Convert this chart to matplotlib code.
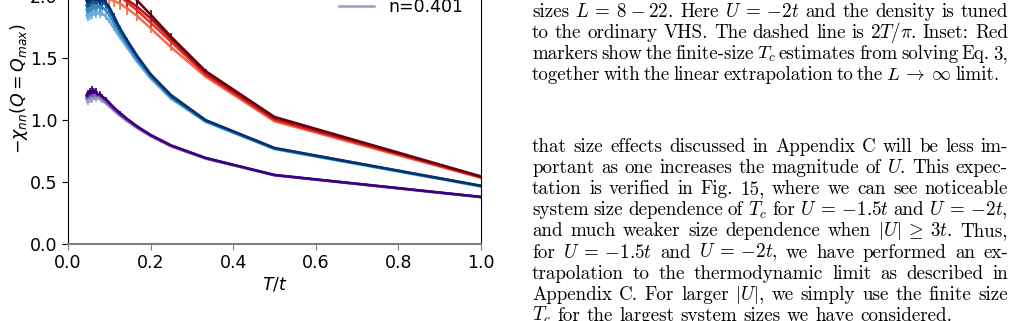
import numpy as np
import matplotlib
matplotlib.use("Agg")
import matplotlib.pyplot as plt
from matplotlib.lines import Line2D

# ---------------- data ----------------
T = [1.0, 0.5, 0.333, 0.25, 0.2, 0.167, 0.143, 0.125, 0.111, 0.1, 0.091, 0.083,
     0.077, 0.071, 0.067, 0.0625, 0.059, 0.056, 0.053, 0.05, 0.048, 0.045]

red_L1 = [0.533, 0.99, 1.35, 1.585, 1.74, 1.84, 1.90, 1.94, 1.96, 1.975, 1.985, 1.99,
          1.975, 2.0, 1.98, 1.995, 1.97, 1.99, 1.965, 1.985, 1.96, 1.975]
red_L2 = [0.538, 1.0, 1.365, 1.63, 1.785, 1.885, 1.95, 2.0, 2.04, 2.07, 2.09, 2.10,
          2.11, 2.115, 2.12, 2.11, 2.125, 2.115, 2.12, 2.11, 2.12, 2.11]
red_L3 = [0.542, 1.012, 1.38, 1.655, 1.82, 1.915, 1.97, 2.02, 2.07, 2.11, 2.14, 2.16,
          2.17, 2.18, 2.19, 2.185, 2.2, 2.19, 2.2, 2.195, 2.2, 2.19]
red_L4 = [0.545, 1.025, 1.395, 1.67, 1.85, 1.965, 2.06, 2.14, 2.20, 2.25, 2.29, 2.31,
          2.33, 2.34, 2.36, 2.35, 2.37, 2.36, 2.38, 2.37, 2.38, 2.37]
red_err = [0.004, 0.008, 0.015, 0.03, 0.04, 0.045, 0.05, 0.05, 0.05, 0.055, 0.055, 0.06,
           0.06, 0.06, 0.06, 0.06, 0.06, 0.06, 0.06, 0.06, 0.06, 0.06]

blue_L1 = [0.464, 0.765, 0.985, 1.17, 1.335, 1.47, 1.585, 1.67, 1.74, 1.80, 1.835, 1.86,
           1.85, 1.875, 1.855, 1.87, 1.845, 1.865, 1.84, 1.855, 1.83, 1.845]
blue_L2 = [0.466, 0.768, 0.99, 1.18, 1.35, 1.49, 1.61, 1.70, 1.78, 1.85, 1.885, 1.91,
           1.90, 1.925, 1.905, 1.92, 1.895, 1.91, 1.885, 1.90, 1.875, 1.89]
blue_L3 = [0.468, 0.772, 0.995, 1.19, 1.36, 1.51, 1.63, 1.73, 1.82, 1.89, 1.93, 1.945,
           1.96, 1.94, 1.97, 1.95, 1.965, 1.935, 1.955, 1.93, 1.95, 1.925]
blue_L4 = [0.47, 0.775, 1.0, 1.20, 1.37, 1.52, 1.645, 1.745, 1.84, 1.91, 1.95, 1.97,
           1.955, 1.985, 1.965, 1.995, 1.97, 1.985, 1.955, 1.975, 1.945, 1.96]
blue_err = [0.002, 0.004, 0.006, 0.008, 0.01, 0.012, 0.015, 0.015, 0.02, 0.02, 0.025, 0.025,
            0.03, 0.03, 0.03, 0.03, 0.03, 0.03, 0.03, 0.03, 0.03, 0.03]

purple_L1 = [0.377, 0.553, 0.688, 0.786, 0.869, 0.935, 0.99, 1.035, 1.075, 1.11, 1.135, 1.155,
             1.17, 1.18, 1.17, 1.19, 1.165, 1.18, 1.16, 1.175, 1.15, 1.165]
purple_L2 = [0.378, 0.555, 0.69, 0.789, 0.873, 0.94, 0.998, 1.045, 1.085, 1.12, 1.15, 1.17,
             1.19, 1.195, 1.205, 1.19, 1.21, 1.185, 1.20, 1.18, 1.195, 1.175]
purple_L3 = [0.379, 0.556, 0.693, 0.792, 0.877, 0.946, 1.005, 1.05, 1.095, 1.13, 1.16, 1.185,
             1.20, 1.21, 1.22, 1.235, 1.215, 1.225, 1.20, 1.215, 1.19, 1.20]
purple_L4 = [0.38, 0.557, 0.695, 0.795, 0.88, 0.95, 1.01, 1.06, 1.10, 1.14, 1.17, 1.19,
             1.21, 1.205, 1.235, 1.22, 1.25, 1.215, 1.23, 1.21, 1.22, 1.195]
purple_err = [0.002, 0.003, 0.004, 0.005, 0.006, 0.008, 0.01, 0.01, 0.012, 0.015, 0.018, 0.02,
              0.02, 0.02, 0.025, 0.025, 0.025, 0.025, 0.025, 0.025, 0.025, 0.025]

legend_label = "n=0.401"
xticks = [0.0, 0.2, 0.4, 0.6, 0.8, 1.0]
yticks = [0.0, 0.5, 1.0, 1.5, 2.0, 2.5]

caption_lines = [
    "sizes $L\\:=\\:8\\:-\\:22$. Here $U\\:=\\:{-2t}$ and the density is tuned",
    "to the ordinary VHS. The dashed line is $2T/\\pi$. Inset: Red",
    "markers show the finite-size $T_c$ estimates from solving Eq. 3,",
    "together with the linear extrapolation to the $L\\:\\rightarrow\\:\\infty$ limit.",
]
caption_ends = [1008, 1008, 1008, 1000]   # right end of each caption line (px)
body_lines = [
    "that size effects discussed in Appendix C will be less im-",
    "portant as one increases the magnitude of $U$. This expec-",
    "tation is verified in Fig. 15, where we can see noticeable",
    "system size dependence of $T_c$ for $U\\:=\\:{-1.5t}$ and $U\\:=\\:{-2t}$,",
    "and much weaker size dependence when $|U|\\:\\geq\\:3t$. Thus,",
    "for $U\\:=\\:{-1.5t}$ and $U\\:=\\:{-2t}$, we have performed an ex-",
    "trapolation to the thermodynamic limit as described in",
    "Appendix C. For larger $|U|$, we simply use the finite size",
    "$T_c$ for the largest system sizes we have considered.",
]

# ---------------- figure ----------------
W, H = 1028, 321
fig = plt.figure(figsize=(W / 100, H / 100), dpi=100)
ax = fig.add_axes([68 / W, 77 / H, 413 / W, 310 / H])

families = [
    ("Reds", [red_L1, red_L2, red_L3, red_L4], red_err),
    ("Blues", [blue_L1, blue_L2, blue_L3, blue_L4], blue_err),
    ("Purples", [purple_L1, purple_L2, purple_L3, purple_L4], purple_err),
]
legend_color = None
for cmap_name, series, err in families:
    cmap = plt.get_cmap(cmap_name)
    cols = cmap(np.linspace(0.5, 1.0, len(series)))
    for i, (vals, c) in enumerate(zip(series, cols)):
        ax.errorbar(T, vals, yerr=err, color=c, lw=1.8, elinewidth=1.2, capsize=0)
    if cmap_name == "Purples":
        legend_color = cols[0]

ax.set_xlim(0, 1.0)
ax.set_ylim(0, 2.5)
ax.set_xticks(xticks)
ax.set_yticks(yticks)
ax.tick_params(labelsize=12.5, length=4)
ax.tick_params(axis="x", color="#808080")
ax.spines["bottom"].set_color("#808080")
ax.spines["bottom"].set_linewidth(1.5)
ax.set_xlabel("$T/t$", fontsize=12.5, labelpad=2)
ax.set_ylabel("$-\\chi_{nn}(Q=Q_{max})$", fontsize=12.5, labelpad=0)

handle = Line2D([], [], color=legend_color, lw=1.8)
ax.legend([handle], [legend_label], loc="center right", frameon=False, fontsize=12.5,
          borderaxespad=0, bbox_to_anchor=(470 / W, 1 - 7 / H),
          bbox_transform=fig.transFigure)

# ---------------- page text (justified) ----------------
renderer = fig.canvas.get_renderer()
X0, X1 = 532, 1008


def make_tokens(line, x_px, y_px, fs):
    toks = line.split(" ")
    return [fig.text(x_px / W, 1 - y_px / H, t, fontsize=fs, family="cmr10",
                     math_fontfamily="cm", va="baseline", ha="left") for t in toks]


def natural_width(line, fs, space_em):
    objs = make_tokens(line, 0, 0, fs)
    w = sum(o.get_window_extent(renderer).width for o in objs)
    n = len(objs)
    for o in objs:
        o.remove()
    return w + (n - 1) * space_em * fs * 100 / 72


# font size: on average, the justified lines fill the column with normal spaces
justified = caption_lines[:-1] + body_lines[:-1]
mean_w = np.mean([natural_width(ln, 10.0, 0.3333) for ln in justified])
FS = 10.0 * (X1 - X0) / mean_w
MIN_GAP = 0.18 * FS * 100 / 72
SPACE = 0.3333 * FS * 100 / 72


def place(line, y_px, x_end=None):
    fs = FS
    objs = make_tokens(line, X0, y_px, fs)
    widths = [o.get_window_extent(renderer).width for o in objs]
    n = len(objs)
    if x_end is not None and n > 1:
        gap = (x_end - X0 - sum(widths)) / (n - 1)
        if gap < MIN_GAP:
            scale = (x_end - X0 - (n - 1) * MIN_GAP) / sum(widths)
            for o in objs:
                o.set_fontsize(fs * scale)
            widths = [w * scale for w in widths]
            gap = (x_end - X0 - sum(widths)) / (n - 1)
    else:
        gap = SPACE
    x = X0
    for o, w in zip(objs, widths):
        o.set_x(x / W)
        x += w + gap


cap_base0, step = 17, 21.0
for i, (ln, xe) in enumerate(zip(caption_lines, caption_ends)):
    place(ln, cap_base0 + i * step, x_end=xe)

body_base0 = 152
for i, ln in enumerate(body_lines):
    place(ln, body_base0 + i * 21.1, x_end=(X1 if i < len(body_lines) - 1 else None))

fig.savefig("out.png", dpi=100)
